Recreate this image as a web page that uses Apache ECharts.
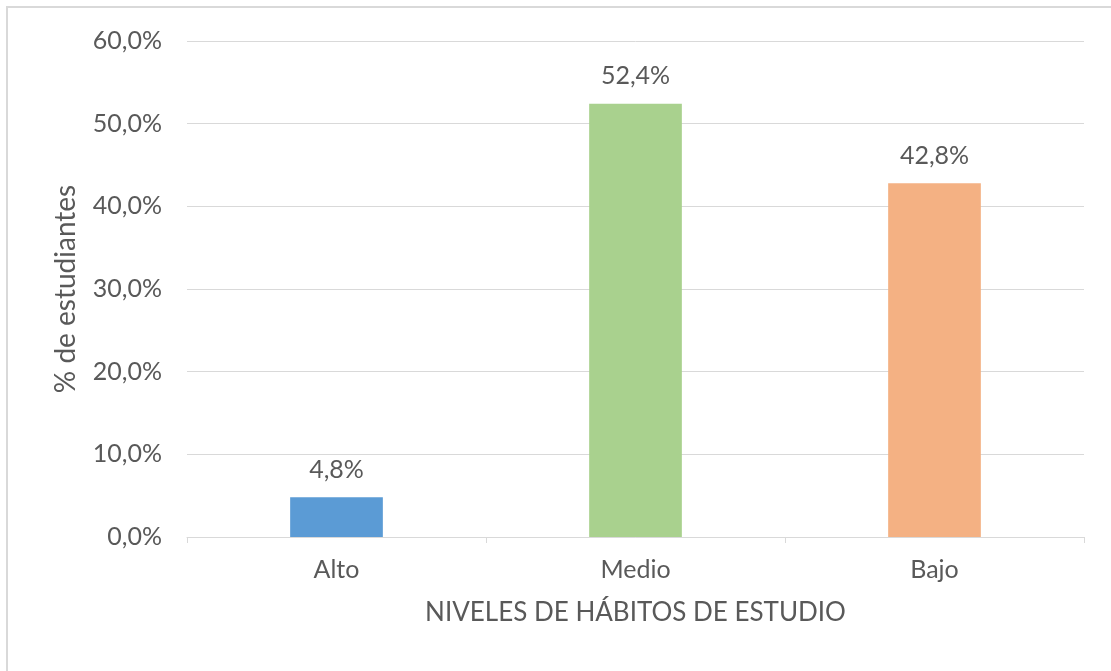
<!DOCTYPE html>
<html>
<head>
<meta charset="utf-8">
<script src="https://cdn.jsdelivr.net/npm/echarts@6/dist/echarts.min.js"></script>
<style>
  html, body { margin: 0; padding: 0; background: #fff; overflow: hidden; }
  #frame {
    position: absolute; left: 6px; top: 6px;
    width: 1200px; height: 800px;
    border: 2px solid #d9d9d9;
  }
  #chart { position: absolute; left: 0; top: 0; width: 1111px; height: 671px; }
</style>
</head>
<body>
<div id="frame"></div>
<div id="chart"></div>
<script>
  var categories = ['Alto', 'Medio', 'Bajo'];
  var values = [4.8, 52.4, 42.8];
  var barColors = ['#5B9BD5', '#A9D18E', '#F4B183'];

  var textColor = '#595959';
  var font = 'Lato';

  function pct(v) {
    return v.toFixed(1).replace('.', ',') + '%';
  }

  var chartDom = document.getElementById('chart');
  var myChart = echarts.init(chartDom);

  var option = {
    animation: false,
    grid: { left: 187, right: 27, top: 41, bottom: 134 },
    xAxis: {
      type: 'category',
      data: categories,
      name: 'NIVELES DE HÁBITOS DE ESTUDIO',
      nameLocation: 'middle',
      nameGap: 63,
      nameTextStyle: { color: textColor, fontSize: 26, fontFamily: font },
      axisLine: { lineStyle: { color: '#d9d9d9', width: 1 } },
      axisTick: { show: true, length: 6, lineStyle: { color: '#d9d9d9' } },
      axisLabel: { color: textColor, fontSize: 25, fontFamily: font, margin: 20 }
    },
    yAxis: {
      type: 'value',
      min: 0,
      max: 60,
      interval: 10,
      name: '% de estudiantes',
      nameLocation: 'middle',
      nameRotate: 90,
      nameGap: 107,
      nameTextStyle: { color: textColor, fontSize: 28, fontFamily: font },
      axisLine: { show: false },
      axisTick: { show: false },
      splitLine: { lineStyle: { color: '#d9d9d9', width: 1 } },
      axisLabel: {
        color: textColor, fontSize: 25, fontFamily: font, margin: 25,
        formatter: function (v) { return pct(v); }
      }
    },
    series: [
      {
        type: 'bar',
        barWidth: '31%',
        data: values.map(function (v, i) {
          return { value: v, itemStyle: { color: barColors[i] } };
        }),
        label: {
          show: true,
          position: 'top',
          distance: 15,
          color: textColor,
          fontSize: 25,
          fontFamily: font,
          formatter: function (p) { return pct(p.value); }
        }
      }
    ]
  };

  option && myChart.setOption(option);
</script>
</body>
</html>
